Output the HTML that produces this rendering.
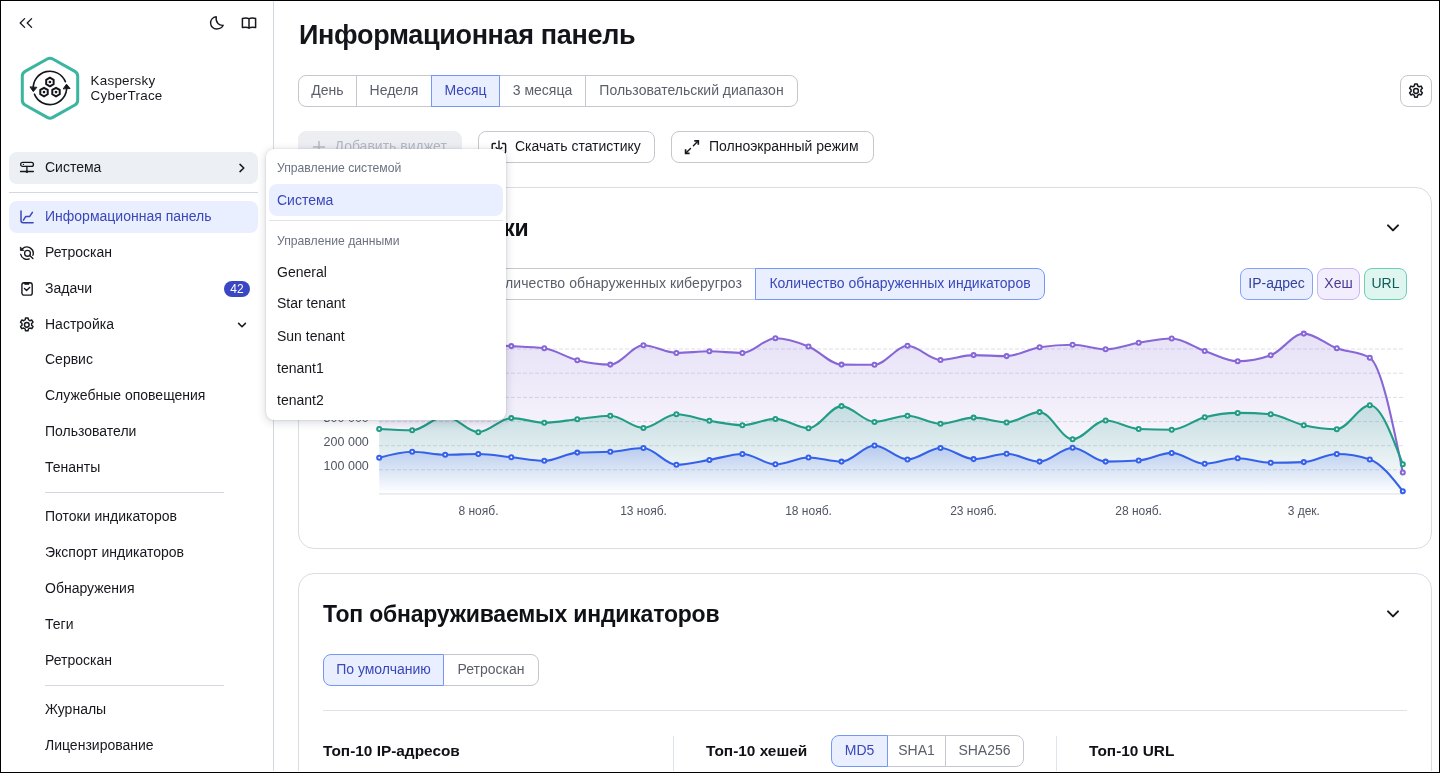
<!DOCTYPE html>
<html lang="ru">
<head>
<meta charset="utf-8">
<title>Kaspersky CyberTrace — Информационная панель</title>
<style>
*{box-sizing:border-box;margin:0;padding:0}
html,body{width:1440px;height:773px;overflow:hidden;background:#fff}
body{font-family:"Liberation Sans",sans-serif;color:#17181e;font-size:14px;position:relative}
#app{position:absolute;left:0;top:0;width:1440px;height:773px;overflow:hidden;background:#fff}
#frame{position:absolute;left:0;top:0;width:1440px;height:773px;border:1px solid #000;z-index:100;pointer-events:none}
#frame:after{content:'';position:absolute;left:0;bottom:0;width:1438px;height:1px;background:#fff}
.abs{position:absolute}
.t{position:absolute;white-space:nowrap;line-height:1}
/* sidebar */
#side{position:absolute;left:0;top:0;width:274px;height:773px;border-right:1px solid #d4d9e1;background:#fff}
.row{position:absolute;left:9px;width:249px;height:32px;border-radius:8px}
.row .lbl{position:absolute;left:36px;top:-1px;line-height:32px;font-size:14px;white-space:nowrap;color:#17181e}
.row svg{position:absolute}
.sub{position:absolute;left:45px;font-size:14px;line-height:32px;height:32px;white-space:nowrap;color:#17181e}
.hr{position:absolute;height:1px;background:#d4d9e1}
/* segmented */
.seg{position:absolute;height:32px;border:1px solid #c4c7ce;background:#fff;color:#5a5f6a;font-size:14px;line-height:29px;text-align:center;white-space:nowrap}
.seg.first{border-radius:8px 0 0 8px}
.seg.last{border-radius:0 8px 8px 0}
.seg.on{background:#e9efff;border-color:#7598f5;color:#3a47b8;z-index:2}
.btn{position:absolute;height:32px;border:1px solid #c4c7ce;border-radius:8px;background:#fff;color:#17181e;font-size:14px;line-height:28px;white-space:nowrap}
.card{position:absolute;border:1px solid #d9dde4;border-radius:16px;background:#fff}
.h2{position:absolute;font-weight:bold;font-size:23px;letter-spacing:-.2px;line-height:1;white-space:nowrap;color:#101116}
.h3{position:absolute;font-weight:bold;font-size:15.4px;line-height:1;white-space:nowrap;color:#101116}
.chip{position:absolute;height:32px;border-radius:8px;border:1px solid;font-size:14px;line-height:29px;text-align:center;white-space:nowrap}
/* dropdown */
#dd{position:absolute;left:266px;top:149px;width:240px;height:271px;background:#fff;border-radius:8px;box-shadow:0 2px 10px rgba(20,30,60,.18),0 0 2px rgba(20,30,60,.18);z-index:50}
#dd .cap{position:absolute;left:11px;font-size:12.2px;color:#6b7280;line-height:1;white-space:nowrap}
#dd .it{position:absolute;left:11px;font-size:14px;color:#17181e;line-height:1;white-space:nowrap}
</style>
</head>
<body>
<div id="app">
<div id="side">
  <!-- top icons -->
  <svg class="abs" style="left:18px;top:16px" width="16" height="14" viewBox="0 0 16 14" fill="none" stroke="#17181e" stroke-width="1.3" stroke-linecap="round" stroke-linejoin="round"><path d="M6.6 2.6 L2.2 7 L6.6 11.4"/><path d="M13.6 2.6 L9.2 7 L13.6 11.4"/></svg>
  <svg class="abs" style="left:208px;top:15px" width="18" height="16" viewBox="0 0 18 16" fill="none" stroke="#17181e" stroke-width="1.4" stroke-linecap="round" stroke-linejoin="round"><path d="M8.2 1.8 C4.6 2.2 2.6 5 2.6 8 C2.6 11.4 5.3 14 8.6 14 C11.6 14 14.2 12.6 15.2 10.3 C11.4 10.7 7.4 7.8 8.2 1.8 Z"/></svg>
  <svg class="abs" style="left:240px;top:16px" width="18" height="14" viewBox="0 0 18 14" fill="none" stroke="#17181e" stroke-width="1.5" stroke-linejoin="round"><path d="M9 2.6 C7.2 1.9 4.6 1.9 2.4 2.4 V11.6 C4.6 11.1 7.2 11.1 9 11.8 C10.8 11.1 13.4 11.1 15.6 11.6 V2.4 C13.4 1.9 10.8 1.9 9 2.6 Z"/><path d="M9 2.6 V12.8"/></svg>
  <!-- logo -->
  <svg class="abs" style="left:16px;top:52px" width="68" height="72" viewBox="0 0 68 72" fill="none">
    <path d="M31.21 6.97 Q34.00 5.40 36.79 6.97 L58.91 19.43 Q61.70 21.00 61.70 24.20 L61.70 48.20 Q61.70 51.40 58.91 52.97 L36.79 65.43 Q34.00 67.00 31.21 65.43 L9.09 52.97 Q6.30 51.40 6.30 48.20 L6.30 24.20 Q6.30 21.00 9.09 19.43 Z" stroke="#3bb5a0" stroke-width="3" stroke-linejoin="round"/>
    <g stroke="#15161c" stroke-width="1.6" fill="none" stroke-linecap="round" stroke-linejoin="round">
      <path d="M17.24 37.06 A16.7 16.7 0 0 1 49.38 29.64"/>
      <path d="M50.56 34.74 A16.7 16.7 0 0 1 18.42 42.16"/>
      <path d="M14.2 35.2 L17.3 39.6 L20.6 35.6 Z" fill="#15161c" stroke-width="1"/>
      <path d="M47.4 36.6 L50.5 32.2 L53.8 36.2 Z" fill="#15161c" stroke-width="1"/>
      <path stroke-width="2" d="M33.90 25.70 L37.62 27.85 L37.62 32.15 L33.90 34.30 L30.18 32.15 L30.18 27.85 Z"/>
      <path stroke-width="2" d="M28.00 35.80 L31.72 37.95 L31.72 42.25 L28.00 44.40 L24.28 42.25 L24.28 37.95 Z"/>
      <path stroke-width="2" d="M40.00 35.80 L43.72 37.95 L43.72 42.25 L40.00 44.40 L36.28 42.25 L36.28 37.95 Z"/>
    </g>
    <g fill="#15161c"><circle cx="33.9" cy="30" r="1.35"/><circle cx="28" cy="40.1" r="1.35"/><circle cx="40" cy="40.1" r="1.35"/></g>
  </svg>
  <div class="t" style="left:90.6px;top:72.5px;font-size:13.4px;line-height:15px;color:#17181e;letter-spacing:.25px">Kaspersky<br>CyberTrace</div>

  <!-- Система -->
  <div class="row" style="top:152px;background:#eceff3">
    <svg style="left:10px;top:8px" width="17" height="16" viewBox="0 0 17 16" fill="none" stroke="#17181e" stroke-width="1.3" stroke-linecap="round" stroke-linejoin="round"><rect x="1.65" y="2.45" width="12.8" height="4" rx="2"/><circle cx="4.4" cy="4.4" r=".6" fill="#17181e" stroke="none"/><path d="M7.9 6.4 V11.4"/><path d="M1.5 11.5 H14.4"/><circle cx="7.9" cy="11.7" r="1.25" fill="#17181e" stroke="none"/></svg>
    <span class="lbl">Система</span>
    <svg style="left:228.2px;top:10px" width="10" height="12" viewBox="0 0 10 12" fill="none" stroke="#17181e" stroke-width="1.5" stroke-linecap="round" stroke-linejoin="round"><path d="M3 2.4 L6.8 6 L3 9.6"/></svg>
  </div>
  <div class="hr" style="left:9px;top:192px;width:249px"></div>
  <!-- Информационная панель -->
  <div class="row" style="top:201px;background:#e9efff">
    <svg style="left:11px;top:8px" width="16" height="16" viewBox="0 0 16 16" fill="none" stroke="#3a47b8" stroke-width="1.5" stroke-linecap="round" stroke-linejoin="round"><path d="M1 1.9 V11.6 Q1 13.8 3.2 13.8 H13.1"/><path d="M3.4 11.2 L5.8 7.4 H9.7 L12.4 3.3"/></svg>
    <span class="lbl" style="color:#3a47b8">Информационная панель</span>
  </div>
  <!-- Ретроскан -->
  <div class="row" style="top:237px">
    <svg style="left:10px;top:8px" width="17" height="16" viewBox="0 0 17 16" fill="none" stroke="#17181e" stroke-width="1.35" stroke-linecap="round" stroke-linejoin="round"><circle cx="8.5" cy="8.3" r="2.9"/><path d="M10.7 10.5 L13.9 13.5"/><path d="M3.2 4.0 A6.4 6.4 0 0 1 13.9 10.4"/><path d="M1.7 9.3 A6.4 6.4 0 0 0 10.3 13.9"/><path d="M1.4 2.3 V5.5 H4.5 Z" fill="#17181e" stroke-width=".8"/></svg>
    <span class="lbl">Ретроскан</span>
  </div>
  <!-- Задачи -->
  <div class="row" style="top:273px">
    <svg style="left:12px;top:8px" width="14" height="16" viewBox="0 0 14 16" fill="none" stroke="#17181e" stroke-width="1.4" stroke-linecap="round" stroke-linejoin="round"><rect x="0.9" y="1.7" width="10.3" height="12.45" rx="2.2"/><path d="M4 1.9 H8 V3.3 H4 Z" fill="#17181e" stroke-width=".9"/><path d="M3.5 7.6 L5.55 9.5 L8.6 6.5"/></svg>
    <span class="lbl">Задачи</span>
    <div class="abs" style="left:215px;top:8px;width:26px;height:16px;border-radius:8px;background:#3a47c2;color:#fff;font-size:12px;line-height:16px;text-align:center">42</div>
  </div>
  <!-- Настройка -->
  <div class="row" style="top:309px">
    <svg style="left:9.15px;top:7.15px" width="17.6" height="17.6" viewBox="0 0 24 24" fill="none" stroke="#17181e" stroke-width="2" stroke-linecap="round" stroke-linejoin="round"><circle cx="12" cy="12" r="3.2"/><path d="M10.3 2.6 h3.4 l.6 2.7 a7 7 0 0 1 1.9 1.1 l2.6 -.9 1.7 2.9 -2 1.9 a7 7 0 0 1 0 2.2 l2 1.9 -1.7 2.9 -2.6 -.9 a7 7 0 0 1 -1.9 1.1 l-.6 2.7 h-3.4 l-.6 -2.7 a7 7 0 0 1 -1.9 -1.1 l-2.6 .9 -1.7 -2.9 2 -1.9 a7 7 0 0 1 0 -2.2 l-2 -1.9 1.7 -2.9 2.6 .9 a7 7 0 0 1 1.9 -1.1 z"/></svg>
    <span class="lbl">Настройка</span>
    <svg style="left:227.2px;top:11px" width="12" height="10" viewBox="0 0 12 10" fill="none" stroke="#17181e" stroke-width="1.5" stroke-linecap="round" stroke-linejoin="round"><path d="M2.6 3.4 L6 6.8 L9.4 3.4"/></svg>
  </div>
  <div class="sub" style="top:343px">Сервис</div>
  <div class="sub" style="top:379px">Служебные оповещения</div>
  <div class="sub" style="top:415px">Пользователи</div>
  <div class="sub" style="top:451px">Тенанты</div>
  <div class="hr" style="left:45px;top:492px;width:179px"></div>
  <div class="sub" style="top:500px">Потоки индикаторов</div>
  <div class="sub" style="top:536px">Экспорт индикаторов</div>
  <div class="sub" style="top:572px">Обнаружения</div>
  <div class="sub" style="top:608px">Теги</div>
  <div class="sub" style="top:644px">Ретроскан</div>
  <div class="hr" style="left:45px;top:685px;width:179px"></div>
  <div class="sub" style="top:693px">Журналы</div>
  <div class="sub" style="top:729px">Лицензирование</div>
</div>

<div id="main" class="abs" style="left:274px;top:0;width:1166px;height:773px">
</div>
<!-- coordinates below are absolute within #app -->
<div class="t" id="h1" style="left:299px;top:22px;font-size:27px;letter-spacing:-.33px;font-weight:bold;color:#14151b">Информационная панель</div>

<!-- period tabs -->
<div class="seg first" style="left:298px;top:75px;width:59px">День</div>
<div class="seg" style="left:356px;top:75px;width:76px">Неделя</div>
<div class="seg on" style="left:431px;top:75px;width:69px">Месяц</div>
<div class="seg" style="left:499px;top:75px;width:87px">3 месяца</div>
<div class="seg last" style="left:585px;top:75px;width:213px">Пользовательский диапазон</div>

<!-- gear button -->
<div class="btn" style="left:1400px;top:75px;width:32px">
  <svg class="abs" style="left:6px;top:6.3px" width="18" height="18" viewBox="0 0 24 24" fill="none" stroke="#17181e" stroke-width="2" stroke-linecap="round" stroke-linejoin="round"><circle cx="12" cy="12" r="3.2"/><path d="M10.3 2.6 h3.4 l.6 2.7 a7 7 0 0 1 1.9 1.1 l2.6 -.9 1.7 2.9 -2 1.9 a7 7 0 0 1 0 2.2 l2 1.9 -1.7 2.9 -2.6 -.9 a7 7 0 0 1 -1.9 1.1 l-.6 2.7 h-3.4 l-.6 -2.7 a7 7 0 0 1 -1.9 -1.1 l-2.6 .9 -1.7 -2.9 2 -1.9 a7 7 0 0 1 0 -2.2 l-2 -1.9 1.7 -2.9 2.6 .9 a7 7 0 0 1 1.9 -1.1 z"/></svg>
</div>

<!-- action buttons -->
<div class="btn" style="left:298px;top:131px;width:164px;background:#eceef2;border-color:#eceef2;color:#b3b9c4">
  <svg class="abs" style="left:13px;top:8px" width="14" height="14" viewBox="0 0 14 14" fill="none" stroke="#b3b9c4" stroke-width="1.5" stroke-linecap="round"><path d="M7 1.5 V12.5 M1.5 7 H12.5"/></svg>
  <span class="abs" style="left:35.5px;top:0">Добавить виджет</span>
</div>
<div class="btn" style="left:478px;top:131px;width:177px">
  <svg class="abs" style="left:12px;top:7px" width="16" height="16" viewBox="0 0 16 16" fill="none" stroke="#17181e" stroke-width="1.4" stroke-linecap="round" stroke-linejoin="round"><path d="M4.4 4.5 H2.4 Q1.2 4.5 1.2 5.7 V12.8 Q1.2 14 2.4 14 H13.4 Q14.6 14 14.6 12.8 V5.7 Q14.6 4.5 13.4 4.5 H11.4"/><path d="M8 2 V11"/><path d="M5.1 8.4 L8 11.2 L10.9 8.4"/></svg>
  <span class="abs" style="left:36px;top:0">Скачать статистику</span>
</div>
<div class="btn" style="left:671px;top:131px;width:203px">
  <svg class="abs" style="left:12px;top:7px" width="16" height="16" viewBox="0 0 16 16" fill="none" stroke="#17181e" stroke-width="1.4" stroke-linecap="round" stroke-linejoin="round"><path d="M10.3 1.8 H14.3 V5.8" stroke-width="1.7" stroke-linejoin="miter" stroke-linecap="butt"/><path d="M14 2.1 L9.4 6.7"/><path d="M1.6 10.3 V14.3 H5.6" stroke-width="1.7" stroke-linejoin="miter" stroke-linecap="butt"/><path d="M1.9 14 L6.5 9.4"/></svg>
  <span class="abs" style="left:37px;top:0">Полноэкранный режим</span>
</div>

<!-- card 1 -->
<div class="card" style="left:298px;top:187px;width:1134px;height:362px"></div>
<div class="h2" id="h2a" style="right:911.6px;top:217px">Сводные графики</div>
<svg class="abs" style="left:1385px;top:221px" width="16" height="14" viewBox="0 0 16 14" fill="none" stroke="#17181e" stroke-width="2" stroke-linecap="round" stroke-linejoin="round"><path d="M3 4.4 L8 9.4 L13 4.4"/></svg>
<div class="seg first" style="left:323px;top:268px;width:433px;text-align:right;padding-right:13px;letter-spacing:.085px">Количество обнаруженных киберугроз</div>
<div class="seg last on" style="left:755px;top:268px;width:290px">Количество обнаруженных индикаторов</div>
<div class="chip" style="left:1240px;top:268px;width:73px;background:#e9efff;border-color:#86a3f7;color:#34429c">IP-адрес</div>
<div class="chip" style="left:1317px;top:268px;width:43px;background:#f3eefd;border-color:#c9b5f3;color:#4a3b94">Хеш</div>
<div class="chip" style="left:1364px;top:268px;width:43px;background:#dff5ef;border-color:#6fcdb6;color:#0f5c5c">URL</div>

<!-- chart -->
<svg class="abs" style="left:0;top:0" width="1440" height="773" viewBox="0 0 1440 773">
  <defs>
    <linearGradient id="gp" x1="0" y1="333" x2="0" y2="493" gradientUnits="userSpaceOnUse"><stop offset="0" stop-color="#8767d6" stop-opacity=".2"/><stop offset="1" stop-color="#8767d6" stop-opacity="0"/></linearGradient>
    <linearGradient id="gg" x1="0" y1="405" x2="0" y2="493" gradientUnits="userSpaceOnUse"><stop offset="0" stop-color="#219c85" stop-opacity=".22"/><stop offset="1" stop-color="#219c85" stop-opacity="0"/></linearGradient>
    <linearGradient id="gb" x1="0" y1="445" x2="0" y2="493" gradientUnits="userSpaceOnUse"><stop offset="0" stop-color="#3561ea" stop-opacity=".24"/><stop offset="1" stop-color="#3561ea" stop-opacity="0"/></linearGradient>
  </defs>
  <line x1="379" x2="1403" y1="349.0" y2="349.0" stroke="#dcdfe6" stroke-width="1" stroke-dasharray="4 2"/>
<line x1="379" x2="1403" y1="373.2" y2="373.2" stroke="#dcdfe6" stroke-width="1" stroke-dasharray="4 2"/>
<line x1="379" x2="1403" y1="397.4" y2="397.4" stroke="#dcdfe6" stroke-width="1" stroke-dasharray="4 2"/>
<line x1="379" x2="1403" y1="421.6" y2="421.6" stroke="#dcdfe6" stroke-width="1" stroke-dasharray="4 2"/>
<line x1="379" x2="1403" y1="445.7" y2="445.7" stroke="#dcdfe6" stroke-width="1" stroke-dasharray="4 2"/>
<line x1="379" x2="1403" y1="469.8" y2="469.8" stroke="#dcdfe6" stroke-width="1" stroke-dasharray="4 2"/>
<line x1="379" x2="1403" y1="493.9" y2="493.9" stroke="#eaebf0" stroke-width="1.6"/>
<path d="M379.20,352.00 C390.21,350.50 401.21,349.00 412.22,347.00 C423.23,345.00 434.23,340.00 445.24,340.00 C456.25,340.00 467.25,344.27 478.26,345.00 C489.27,345.73 500.27,345.55 511.28,346.10 C522.29,346.65 533.29,346.83 544.30,348.30 C555.31,349.77 566.31,357.48 577.32,360.20 C588.33,362.92 599.33,364.60 610.34,364.60 C621.35,364.60 632.35,345.30 643.36,345.30 C654.37,345.30 665.37,352.90 676.38,352.90 C687.39,352.90 698.39,351.30 709.40,351.30 C720.41,351.30 731.41,352.90 742.42,352.90 C753.43,352.90 764.43,338.20 775.44,338.20 C786.45,338.20 797.45,342.00 808.46,346.40 C819.47,350.80 830.47,364.47 841.48,364.60 C852.49,364.73 863.49,364.80 874.50,364.80 C885.51,364.80 896.51,345.80 907.52,345.80 C918.53,345.80 929.53,359.90 940.54,359.90 C951.55,359.90 962.55,355.10 973.56,355.10 C984.57,355.10 995.57,356.10 1006.58,356.10 C1017.59,356.10 1028.59,348.87 1039.60,347.20 C1050.61,345.53 1061.61,344.70 1072.62,344.70 C1083.63,344.70 1094.63,349.30 1105.64,349.30 C1116.65,349.30 1127.65,344.60 1138.66,342.80 C1149.67,341.00 1160.67,338.50 1171.68,338.50 C1182.69,338.50 1193.69,347.20 1204.70,351.00 C1215.71,354.80 1226.71,361.30 1237.72,361.30 C1248.73,361.30 1259.73,359.30 1270.74,355.30 C1281.75,351.30 1292.75,333.60 1303.76,333.60 C1314.77,333.60 1325.77,344.27 1336.78,348.30 C1347.79,352.33 1358.79,351.47 1369.80,357.80 C1380.81,364.13 1391.81,418.27 1402.82,472.40 L1402.82,493.00 L379.20,493.00 Z" fill="url(#gp)" stroke="none"/>
<path d="M379.20,352.00 C390.21,350.50 401.21,349.00 412.22,347.00 C423.23,345.00 434.23,340.00 445.24,340.00 C456.25,340.00 467.25,344.27 478.26,345.00 C489.27,345.73 500.27,345.55 511.28,346.10 C522.29,346.65 533.29,346.83 544.30,348.30 C555.31,349.77 566.31,357.48 577.32,360.20 C588.33,362.92 599.33,364.60 610.34,364.60 C621.35,364.60 632.35,345.30 643.36,345.30 C654.37,345.30 665.37,352.90 676.38,352.90 C687.39,352.90 698.39,351.30 709.40,351.30 C720.41,351.30 731.41,352.90 742.42,352.90 C753.43,352.90 764.43,338.20 775.44,338.20 C786.45,338.20 797.45,342.00 808.46,346.40 C819.47,350.80 830.47,364.47 841.48,364.60 C852.49,364.73 863.49,364.80 874.50,364.80 C885.51,364.80 896.51,345.80 907.52,345.80 C918.53,345.80 929.53,359.90 940.54,359.90 C951.55,359.90 962.55,355.10 973.56,355.10 C984.57,355.10 995.57,356.10 1006.58,356.10 C1017.59,356.10 1028.59,348.87 1039.60,347.20 C1050.61,345.53 1061.61,344.70 1072.62,344.70 C1083.63,344.70 1094.63,349.30 1105.64,349.30 C1116.65,349.30 1127.65,344.60 1138.66,342.80 C1149.67,341.00 1160.67,338.50 1171.68,338.50 C1182.69,338.50 1193.69,347.20 1204.70,351.00 C1215.71,354.80 1226.71,361.30 1237.72,361.30 C1248.73,361.30 1259.73,359.30 1270.74,355.30 C1281.75,351.30 1292.75,333.60 1303.76,333.60 C1314.77,333.60 1325.77,344.27 1336.78,348.30 C1347.79,352.33 1358.79,351.47 1369.80,357.80 C1380.81,364.13 1391.81,418.27 1402.82,472.40" fill="none" stroke="#8767d6" stroke-width="2.1" stroke-linecap="round" stroke-linejoin="round"/>
<g fill="#fff" stroke="#8767d6" stroke-width="2.05"><circle cx="379.2" cy="352.0" r="2"/><circle cx="412.2" cy="347.0" r="2"/><circle cx="445.2" cy="340.0" r="2"/><circle cx="478.3" cy="345.0" r="2"/><circle cx="511.3" cy="346.1" r="2"/><circle cx="544.3" cy="348.3" r="2"/><circle cx="577.3" cy="360.2" r="2"/><circle cx="610.3" cy="364.6" r="2"/><circle cx="643.4" cy="345.3" r="2"/><circle cx="676.4" cy="352.9" r="2"/><circle cx="709.4" cy="351.3" r="2"/><circle cx="742.4" cy="352.9" r="2"/><circle cx="775.4" cy="338.2" r="2"/><circle cx="808.5" cy="346.4" r="2"/><circle cx="841.5" cy="364.6" r="2"/><circle cx="874.5" cy="364.8" r="2"/><circle cx="907.5" cy="345.8" r="2"/><circle cx="940.5" cy="359.9" r="2"/><circle cx="973.6" cy="355.1" r="2"/><circle cx="1006.6" cy="356.1" r="2"/><circle cx="1039.6" cy="347.2" r="2"/><circle cx="1072.6" cy="344.7" r="2"/><circle cx="1105.6" cy="349.3" r="2"/><circle cx="1138.7" cy="342.8" r="2"/><circle cx="1171.7" cy="338.5" r="2"/><circle cx="1204.7" cy="351.0" r="2"/><circle cx="1237.7" cy="361.3" r="2"/><circle cx="1270.7" cy="355.3" r="2"/><circle cx="1303.8" cy="333.6" r="2"/><circle cx="1336.8" cy="348.3" r="2"/><circle cx="1369.8" cy="357.8" r="2"/><circle cx="1402.8" cy="472.4" r="2"/></g>
<path d="M379.20,429.00 C390.21,429.65 401.21,430.30 412.22,430.30 C423.23,430.30 434.23,416.20 445.24,416.20 C456.25,416.20 467.25,432.20 478.26,432.20 C489.27,432.20 500.27,418.10 511.28,418.10 C522.29,418.10 533.29,422.70 544.30,422.70 C555.31,422.70 566.31,420.37 577.32,419.20 C588.33,418.03 599.33,415.70 610.34,415.70 C621.35,415.70 632.35,427.90 643.36,427.90 C654.37,427.90 665.37,414.30 676.38,414.30 C687.39,414.30 698.39,418.98 709.40,420.80 C720.41,422.62 731.41,425.20 742.42,425.20 C753.43,425.20 764.43,418.90 775.44,418.90 C786.45,418.90 797.45,428.20 808.46,428.20 C819.47,428.20 830.47,406.10 841.48,406.10 C852.49,406.10 863.49,421.90 874.50,421.90 C885.51,421.90 896.51,415.70 907.52,415.70 C918.53,415.70 929.53,423.80 940.54,423.80 C951.55,423.80 962.55,417.60 973.56,417.60 C984.57,417.60 995.57,422.40 1006.58,422.40 C1017.59,422.40 1028.59,412.10 1039.60,412.10 C1050.61,412.10 1061.61,439.30 1072.62,439.30 C1083.63,439.30 1094.63,420.50 1105.64,420.50 C1116.65,420.50 1127.65,428.47 1138.66,429.00 C1149.67,429.53 1160.67,429.80 1171.68,429.80 C1182.69,429.80 1193.69,420.12 1204.70,417.30 C1215.71,414.48 1226.71,412.90 1237.72,412.90 C1248.73,412.90 1259.73,413.37 1270.74,414.30 C1281.75,415.23 1292.75,422.72 1303.76,425.20 C1314.77,427.68 1325.77,429.20 1336.78,429.20 C1347.79,429.20 1358.79,405.30 1369.80,405.30 C1380.81,405.30 1391.81,434.80 1402.82,464.30 L1402.82,493.00 L379.20,493.00 Z" fill="url(#gg)" stroke="none"/>
<path d="M379.20,429.00 C390.21,429.65 401.21,430.30 412.22,430.30 C423.23,430.30 434.23,416.20 445.24,416.20 C456.25,416.20 467.25,432.20 478.26,432.20 C489.27,432.20 500.27,418.10 511.28,418.10 C522.29,418.10 533.29,422.70 544.30,422.70 C555.31,422.70 566.31,420.37 577.32,419.20 C588.33,418.03 599.33,415.70 610.34,415.70 C621.35,415.70 632.35,427.90 643.36,427.90 C654.37,427.90 665.37,414.30 676.38,414.30 C687.39,414.30 698.39,418.98 709.40,420.80 C720.41,422.62 731.41,425.20 742.42,425.20 C753.43,425.20 764.43,418.90 775.44,418.90 C786.45,418.90 797.45,428.20 808.46,428.20 C819.47,428.20 830.47,406.10 841.48,406.10 C852.49,406.10 863.49,421.90 874.50,421.90 C885.51,421.90 896.51,415.70 907.52,415.70 C918.53,415.70 929.53,423.80 940.54,423.80 C951.55,423.80 962.55,417.60 973.56,417.60 C984.57,417.60 995.57,422.40 1006.58,422.40 C1017.59,422.40 1028.59,412.10 1039.60,412.10 C1050.61,412.10 1061.61,439.30 1072.62,439.30 C1083.63,439.30 1094.63,420.50 1105.64,420.50 C1116.65,420.50 1127.65,428.47 1138.66,429.00 C1149.67,429.53 1160.67,429.80 1171.68,429.80 C1182.69,429.80 1193.69,420.12 1204.70,417.30 C1215.71,414.48 1226.71,412.90 1237.72,412.90 C1248.73,412.90 1259.73,413.37 1270.74,414.30 C1281.75,415.23 1292.75,422.72 1303.76,425.20 C1314.77,427.68 1325.77,429.20 1336.78,429.20 C1347.79,429.20 1358.79,405.30 1369.80,405.30 C1380.81,405.30 1391.81,434.80 1402.82,464.30" fill="none" stroke="#219c85" stroke-width="2.1" stroke-linecap="round" stroke-linejoin="round"/>
<g fill="#fff" stroke="#219c85" stroke-width="2.05"><circle cx="379.2" cy="429.0" r="2"/><circle cx="412.2" cy="430.3" r="2"/><circle cx="445.2" cy="416.2" r="2"/><circle cx="478.3" cy="432.2" r="2"/><circle cx="511.3" cy="418.1" r="2"/><circle cx="544.3" cy="422.7" r="2"/><circle cx="577.3" cy="419.2" r="2"/><circle cx="610.3" cy="415.7" r="2"/><circle cx="643.4" cy="427.9" r="2"/><circle cx="676.4" cy="414.3" r="2"/><circle cx="709.4" cy="420.8" r="2"/><circle cx="742.4" cy="425.2" r="2"/><circle cx="775.4" cy="418.9" r="2"/><circle cx="808.5" cy="428.2" r="2"/><circle cx="841.5" cy="406.1" r="2"/><circle cx="874.5" cy="421.9" r="2"/><circle cx="907.5" cy="415.7" r="2"/><circle cx="940.5" cy="423.8" r="2"/><circle cx="973.6" cy="417.6" r="2"/><circle cx="1006.6" cy="422.4" r="2"/><circle cx="1039.6" cy="412.1" r="2"/><circle cx="1072.6" cy="439.3" r="2"/><circle cx="1105.6" cy="420.5" r="2"/><circle cx="1138.7" cy="429.0" r="2"/><circle cx="1171.7" cy="429.8" r="2"/><circle cx="1204.7" cy="417.3" r="2"/><circle cx="1237.7" cy="412.9" r="2"/><circle cx="1270.7" cy="414.3" r="2"/><circle cx="1303.8" cy="425.2" r="2"/><circle cx="1336.8" cy="429.2" r="2"/><circle cx="1369.8" cy="405.3" r="2"/><circle cx="1402.8" cy="464.3" r="2"/></g>
<path d="M379.20,457.80 C390.21,454.80 401.21,451.80 412.22,451.80 C423.23,451.80 434.23,454.80 445.24,454.80 C456.25,454.80 467.25,454.00 478.26,454.00 C489.27,454.00 500.27,456.07 511.28,457.20 C522.29,458.33 533.29,460.80 544.30,460.80 C555.31,460.80 566.31,453.13 577.32,452.60 C588.33,452.07 599.33,452.33 610.34,451.80 C621.35,451.27 632.35,448.00 643.36,448.00 C654.37,448.00 665.37,464.80 676.38,464.80 C687.39,464.80 698.39,461.70 709.40,459.90 C720.41,458.10 731.41,454.00 742.42,454.00 C753.43,454.00 764.43,464.30 775.44,464.30 C786.45,464.30 797.45,457.50 808.46,457.50 C819.47,457.50 830.47,461.60 841.48,461.60 C852.49,461.60 863.49,445.50 874.50,445.50 C885.51,445.50 896.51,459.40 907.52,459.40 C918.53,459.40 929.53,448.00 940.54,448.00 C951.55,448.00 962.55,459.10 973.56,459.10 C984.57,459.10 995.57,453.70 1006.58,453.70 C1017.59,453.70 1028.59,461.60 1039.60,461.60 C1050.61,461.60 1061.61,447.70 1072.62,447.70 C1083.63,447.70 1094.63,461.60 1105.64,461.60 C1116.65,461.60 1127.65,461.23 1138.66,460.50 C1149.67,459.77 1160.67,452.90 1171.68,452.90 C1182.69,452.90 1193.69,463.80 1204.70,463.80 C1215.71,463.80 1226.71,458.30 1237.72,458.30 C1248.73,458.30 1259.73,462.70 1270.74,462.70 C1281.75,462.70 1292.75,462.50 1303.76,462.10 C1314.77,461.70 1325.77,454.00 1336.78,454.00 C1347.79,454.00 1358.79,455.80 1369.80,459.40 C1380.81,463.00 1391.81,477.10 1402.82,491.20 L1402.82,493.00 L379.20,493.00 Z" fill="url(#gb)" stroke="none"/>
<path d="M379.20,457.80 C390.21,454.80 401.21,451.80 412.22,451.80 C423.23,451.80 434.23,454.80 445.24,454.80 C456.25,454.80 467.25,454.00 478.26,454.00 C489.27,454.00 500.27,456.07 511.28,457.20 C522.29,458.33 533.29,460.80 544.30,460.80 C555.31,460.80 566.31,453.13 577.32,452.60 C588.33,452.07 599.33,452.33 610.34,451.80 C621.35,451.27 632.35,448.00 643.36,448.00 C654.37,448.00 665.37,464.80 676.38,464.80 C687.39,464.80 698.39,461.70 709.40,459.90 C720.41,458.10 731.41,454.00 742.42,454.00 C753.43,454.00 764.43,464.30 775.44,464.30 C786.45,464.30 797.45,457.50 808.46,457.50 C819.47,457.50 830.47,461.60 841.48,461.60 C852.49,461.60 863.49,445.50 874.50,445.50 C885.51,445.50 896.51,459.40 907.52,459.40 C918.53,459.40 929.53,448.00 940.54,448.00 C951.55,448.00 962.55,459.10 973.56,459.10 C984.57,459.10 995.57,453.70 1006.58,453.70 C1017.59,453.70 1028.59,461.60 1039.60,461.60 C1050.61,461.60 1061.61,447.70 1072.62,447.70 C1083.63,447.70 1094.63,461.60 1105.64,461.60 C1116.65,461.60 1127.65,461.23 1138.66,460.50 C1149.67,459.77 1160.67,452.90 1171.68,452.90 C1182.69,452.90 1193.69,463.80 1204.70,463.80 C1215.71,463.80 1226.71,458.30 1237.72,458.30 C1248.73,458.30 1259.73,462.70 1270.74,462.70 C1281.75,462.70 1292.75,462.50 1303.76,462.10 C1314.77,461.70 1325.77,454.00 1336.78,454.00 C1347.79,454.00 1358.79,455.80 1369.80,459.40 C1380.81,463.00 1391.81,477.10 1402.82,491.20" fill="none" stroke="#3561ea" stroke-width="2.1" stroke-linecap="round" stroke-linejoin="round"/>
<g fill="#fff" stroke="#3561ea" stroke-width="2.05"><circle cx="379.2" cy="457.8" r="2"/><circle cx="412.2" cy="451.8" r="2"/><circle cx="445.2" cy="454.8" r="2"/><circle cx="478.3" cy="454.0" r="2"/><circle cx="511.3" cy="457.2" r="2"/><circle cx="544.3" cy="460.8" r="2"/><circle cx="577.3" cy="452.6" r="2"/><circle cx="610.3" cy="451.8" r="2"/><circle cx="643.4" cy="448.0" r="2"/><circle cx="676.4" cy="464.8" r="2"/><circle cx="709.4" cy="459.9" r="2"/><circle cx="742.4" cy="454.0" r="2"/><circle cx="775.4" cy="464.3" r="2"/><circle cx="808.5" cy="457.5" r="2"/><circle cx="841.5" cy="461.6" r="2"/><circle cx="874.5" cy="445.5" r="2"/><circle cx="907.5" cy="459.4" r="2"/><circle cx="940.5" cy="448.0" r="2"/><circle cx="973.6" cy="459.1" r="2"/><circle cx="1006.6" cy="453.7" r="2"/><circle cx="1039.6" cy="461.6" r="2"/><circle cx="1072.6" cy="447.7" r="2"/><circle cx="1105.6" cy="461.6" r="2"/><circle cx="1138.7" cy="460.5" r="2"/><circle cx="1171.7" cy="452.9" r="2"/><circle cx="1204.7" cy="463.8" r="2"/><circle cx="1237.7" cy="458.3" r="2"/><circle cx="1270.7" cy="462.7" r="2"/><circle cx="1303.8" cy="462.1" r="2"/><circle cx="1336.8" cy="454.0" r="2"/><circle cx="1369.8" cy="459.4" r="2"/><circle cx="1402.8" cy="491.2" r="2"/></g>

  <g font-family="Liberation Sans, sans-serif" font-size="12.5" fill="#4f5562">
    <g text-anchor="end">
      <text x="368.8" y="349.6">600 000</text>
      <text x="368.8" y="373.8">500 000</text>
      <text x="368.8" y="398.0">400 000</text>
      <text x="368.8" y="422.2">300 000</text>
      <text x="368.8" y="446.3">200 000</text>
      <text x="368.8" y="470.4">100 000</text>
    </g>
    <g text-anchor="middle" font-size="12">
      <text x="478.5" y="515">8 нояб.</text>
      <text x="643.5" y="515">13 нояб.</text>
      <text x="808.5" y="515">18 нояб.</text>
      <text x="973.5" y="515">23 нояб.</text>
      <text x="1138.6" y="515">28 нояб.</text>
      <text x="1303.8" y="515">3 дек.</text>
    </g>
  </g>
</svg>

<!-- card 2 -->
<div class="card" style="left:298px;top:573px;width:1134px;height:240px"></div>
<div class="h2" id="h2b" style="left:323px;top:603px">Топ обнаруживаемых индикаторов</div>
<svg class="abs" style="left:1385px;top:607px" width="16" height="14" viewBox="0 0 16 14" fill="none" stroke="#17181e" stroke-width="2" stroke-linecap="round" stroke-linejoin="round"><path d="M3 4.4 L8 9.4 L13 4.4"/></svg>
<div class="seg first on" style="left:323px;top:654px;width:121px">По умолчанию</div>
<div class="seg last" style="left:443px;top:654px;width:96px">Ретроскан</div>
<div class="hr" style="left:323px;top:710px;width:1084px;background:#dfe3ec"></div>
<div class="hr" style="left:673px;top:736px;width:1px;height:40px;background:#dfe3ec"></div>
<div class="hr" style="left:1056px;top:736px;width:1px;height:40px;background:#dfe3ec"></div>
<div class="h3" style="left:323px;top:743px">Топ-10 IP-адресов</div>
<div class="h3" style="left:706px;top:743px">Топ-10 хешей</div>
<div class="h3" style="left:1089px;top:743px">Топ-10 URL</div>
<div class="seg first on" style="left:831px;top:735px;width:57px">MD5</div>
<div class="seg" style="left:887px;top:735px;width:59px">SHA1</div>
<div class="seg last" style="left:945px;top:735px;width:79px">SHA256</div>

<div id="dd">
  <div class="cap" style="top:13px">Управление системой</div>
  <div class="abs" style="left:3px;top:35px;width:234px;height:32px;border-radius:8px;background:#e9efff"></div>
  <div class="it" style="top:44px;color:#3a47b8">Система</div>
  <div class="hr" style="left:3px;top:71px;width:234px;background:#dfe3ec"></div>
  <div class="cap" style="top:86px">Управление данными</div>
  <div class="it" style="top:116px">General</div>
  <div class="it" style="top:146.5px">Star tenant</div>
  <div class="it" style="top:180px">Sun tenant</div>
  <div class="it" style="top:212px">tenant1</div>
  <div class="it" style="top:244px">tenant2</div>
</div>

<div id="frame"></div>
</div>
</body>
</html>
